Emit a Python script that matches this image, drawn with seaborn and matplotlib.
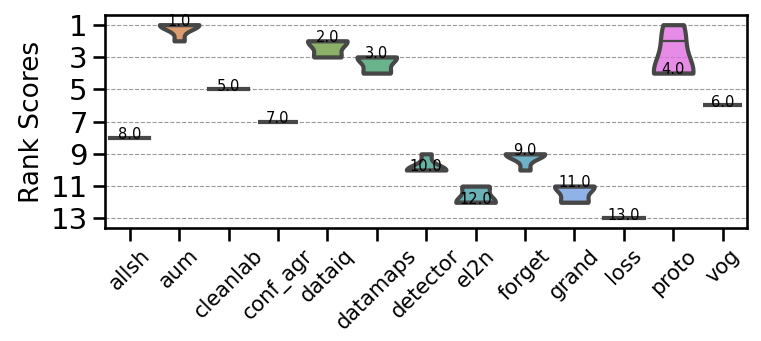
import numpy as np
import pandas as pd
import matplotlib
matplotlib.use("Agg")
import matplotlib.pyplot as plt
import seaborn as sns
from matplotlib.colors import to_rgba

# ── Data: per-method rank scores and overall rank ───────────────────────────
methods = ["allsh", "aum", "cleanlab", "conf_agr", "dataiq", "datamaps",
           "detector", "el2n", "forget", "grand", "loss", "proto", "vog"]

allsh_ranks    = [8, 8, 8, 8, 8]
aum_ranks      = [1, 1, 1, 1, 2]
cleanlab_ranks = [5, 5, 5, 5, 5]
conf_agr_ranks = [7, 7, 7, 7, 7]
dataiq_ranks   = [2, 2, 2, 3, 3]
datamaps_ranks = [3, 3, 3, 4, 4]
detector_ranks = [9, 10, 10, 10, 10]
el2n_ranks     = [11, 11, 12, 12, 12]
forget_ranks   = [9, 9, 9, 9, 10]
grand_ranks    = [11, 11, 11, 12, 12]
loss_ranks     = [13, 13, 13, 13, 13]
proto_ranks    = [1, 2, 4, 4, 4]
vog_ranks      = [6, 6, 6, 6, 6]

final_rank = [8.0, 1.0, 5.0, 7.0, 2.0, 3.0, 10.0, 12.0, 9.0, 11.0, 13.0, 4.0, 6.0]

all_ranks = [allsh_ranks, aum_ranks, cleanlab_ranks, conf_agr_ranks, dataiq_ranks,
             datamaps_ranks, detector_ranks, el2n_ranks, forget_ranks, grand_ranks,
             loss_ranks, proto_ranks, vog_ranks]

df = pd.DataFrame({
    "Method": np.repeat(methods, [len(r) for r in all_ranks]),
    "Rank": np.concatenate(all_ranks).astype(float),
})

# ── Plot ────────────────────────────────────────────────────────────────────
sns.set_context("talk")
fig, ax = plt.subplots(figsize=(7.61, 3.41), dpi=100)
sns.violinplot(data=df, x="Method", y="Rank", hue="Method", order=methods,
               palette=sns.color_palette("husl", len(methods)), legend=False,
               cut=0, density_norm="width", inner="stick", linewidth=3,
               linecolor="#474747", inner_kws=dict(linewidth=1.6), ax=ax)

# lighten the fills a bit, keep the dark outlines
for coll in ax.collections:
    fc = coll.get_facecolor()
    if len(fc):
        coll.set_facecolor([to_rgba(c, 0.8) for c in fc])

# overall rank written next to each violin
for i, r in enumerate(final_rank):
    ax.text(i, r - 0.2, f"{r:.1f}", ha="center", va="center", fontsize=10.5)

ax.set_ylim(13.6, 0.4)
ax.set_yticks([1, 3, 5, 7, 9, 11, 13])
ax.tick_params(axis="y", labelsize=21)
ax.tick_params(axis="x", labelsize=15)
ax.set_xticks(range(len(methods)))
ax.set_xticklabels(methods, rotation=45)
ax.set_xlabel("")
ax.set_ylabel("Rank Scores", fontsize=19)
ax.yaxis.grid(True, linestyle="--", linewidth=0.8, color="#999999")
ax.set_axisbelow(True)

fig.subplots_adjust(left=0.138, right=0.982, top=0.956, bottom=0.331)
fig.savefig("out.png", dpi=100)
plt.close(fig)
